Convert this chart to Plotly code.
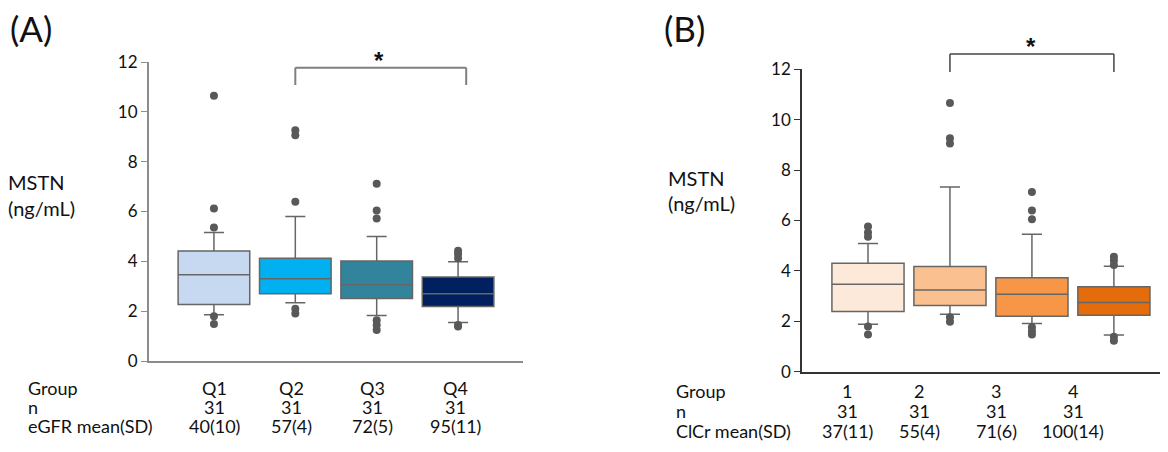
import plotly.graph_objects as go

# page has an 8px body margin: figure is sized so it fills the 1168x452 window
OFF = 8
W, H = 1168 - OFF, 452 - OFF

# ---------------- data ----------------
groups_a = ["Q1", "Q2", "Q3", "Q4"]
a_q1 = [2.27, 2.70, 2.51, 2.19]
a_med = [3.46, 3.30, 3.06, 2.70]
a_q3 = [4.41, 4.12, 4.01, 3.37]
a_lo = [1.86, 2.34, 1.83, 1.55]
a_hi = [5.16, 5.80, 5.00, 3.98]
a_out = [[10.65, 6.12, 5.36, 1.80, 1.48],
         [9.26, 9.06, 6.39, 2.10, 1.91],
         [7.11, 6.04, 5.72, 1.64, 1.44, 1.24],
         [4.42, 4.29, 4.12, 1.44, 1.38]]
a_n = ["31", "31", "31", "31"]
a_egfr = ["40(10)", "57(4)", "72(5)", "95(11)"]

groups_b = ["1", "2", "3", "4"]
b_q1 = [2.39, 2.63, 2.20, 2.24]
b_med = [3.47, 3.24, 3.07, 2.75]
b_q3 = [4.30, 4.17, 3.73, 3.37]
b_lo = [1.88, 2.28, 1.91, 1.46]
b_hi = [5.09, 7.33, 5.45, 4.18]
b_out = [[5.76, 5.52, 5.36, 1.79, 1.48],
         [10.66, 9.26, 9.06, 2.16, 1.98],
         [7.13, 6.40, 6.05, 1.76, 1.61, 1.48],
         [4.56, 4.41, 4.23, 1.39, 1.23]]
b_n = ["31", "31", "31", "31"]
b_clcr = ["37(11)", "55(4)", "71(6)", "100(14)"]

y_ticks = [0, 2, 4, 6, 8, 10, 12]

# ---------------- styles ----------------
colors_a = ["#C6D9F1", "#00B0F0", "#31849B", "#002060"]
colors_b = ["#FDE9D9", "#FAC090", "#F79646", "#E46C0A"]
LINE = "#666666"
DOT = "#595959"
FONT = "Lato, 'Open Sans', sans-serif"
FS = 18

fig = go.Figure()

def add_panel(xa, ya, q1, med, q3, lo, hi, outs, colors):
    for i in range(4):
        xpos = i + 1
        fig.add_trace(go.Box(
            x=[xpos], q1=[q1[i]], median=[med[i]], q3=[q3[i]],
            lowerfence=[lo[i]], upperfence=[hi[i]],
            width=0.88, whiskerwidth=0.28,
            fillcolor=colors[i], line=dict(color=LINE, width=1.5),
            xaxis=xa, yaxis=ya, showlegend=False, hoverinfo="skip",
        ))
        fig.add_trace(go.Scatter(
            x=[xpos] * len(outs[i]), y=outs[i], mode="markers",
            marker=dict(color=DOT, size=8),
            xaxis=xa, yaxis=ya, showlegend=False, hoverinfo="skip",
        ))

add_panel("x", "y", a_q1, a_med, a_q3, a_lo, a_hi, a_out, colors_a)
add_panel("x2", "y2", b_q1, b_med, b_q3, b_lo, b_hi, b_out, colors_b)

def px_x(p):
    return (p - OFF) / W

def px_y(p):
    return 1 - (p - OFF) / H

axis_common = dict(showgrid=False, zeroline=False, showticklabels=False,
                   ticks="", fixedrange=True, automargin=False)
yaxis_common = dict(showgrid=False, zeroline=False, range=[0, 12],
                    tickvals=y_ticks, ticks="outside", ticklen=6,
                    automargin=False,
                    tickfont=dict(family=FONT, size=17, color="#111111"))

fig.update_layout(
    width=W, height=H,
    margin=dict(l=0, r=0, t=0, b=0, autoexpand=False),
    paper_bgcolor="white", plot_bgcolor="white",
    boxmode="overlay",
    xaxis=dict(domain=[px_x(149), px_x(523)], range=[0.202, 4.798],
               showline=True, linecolor="#8c8c8c", linewidth=2, **axis_common),
    yaxis=dict(domain=[px_y(361), px_y(62)], showline=True,
               linecolor="#8c8c8c", linewidth=2, tickcolor="#8c8c8c",
               anchor="x", **yaxis_common),
    xaxis2=dict(domain=[px_x(802), 1.0], range=[0.195, 4.66],
                showline=True, linecolor="#333333", linewidth=1.5,
                anchor="y2", **axis_common),
    yaxis2=dict(domain=[px_y(371.7), px_y(69.3)], showline=True,
                linecolor="#333333", linewidth=1.5, tickcolor="#333333",
                anchor="x2", **yaxis_common),
)

ann = []
def text(x, y, s, size=FS, anchor="center", family=FONT):
    ann.append(dict(x=px_x(x), y=px_y(y), xref="paper", yref="paper",
                    text=s, showarrow=False, xanchor=anchor, yanchor="middle",
                    borderpad=0,
                    font=dict(family=family, size=size, color="#111111")))

# panel labels
text(9, 28, "(A)", size=35, anchor="left")
text(663, 28, "(B)", size=35, anchor="left")

# y titles
text(7, 182, "MSTN", size=20, anchor="left")
text(7, 208, "(ng/mL)", size=20, anchor="left")
text(667, 178, "MSTN", size=20, anchor="left")
text(667, 203, "(ng/mL)", size=20, anchor="left")

# tables
cols_a = [214, 291, 372, 455]
rows_a = [388, 407, 426]
text(27, rows_a[0], "Group", anchor="left")
text(27, rows_a[1], "n", anchor="left")
text(27, rows_a[2], "eGFR mean(SD)", anchor="left")
for i in range(4):
    text(cols_a[i], rows_a[0], groups_a[i])
    text(cols_a[i], rows_a[1], a_n[i])
    text(cols_a[i], rows_a[2], a_egfr[i])

cols_b = [847, 919, 996, 1073]
rows_b = [391, 411, 431]
text(675, rows_b[0], "Group", anchor="left")
text(675, rows_b[1], "n", anchor="left")
text(675, rows_b[2], "ClCr mean(SD)", anchor="left")
for i in range(4):
    text(cols_b[i], rows_b[0], groups_b[i])
    text(cols_b[i], rows_b[1], b_n[i])
    text(cols_b[i], rows_b[2], b_clcr[i])

# significance brackets
shapes = []
def bracket(xref, x0, x1, ytop, ybot, color, width):
    pts = [(x0, ybot, x0, ytop), (x0, ytop, x1, ytop), (x1, ytop, x1, ybot)]
    for (a, b, c, d) in pts:
        shapes.append(dict(type="line", xref=xref, yref="paper",
                           x0=a, x1=c, y0=px_y(b), y1=px_y(d),
                           line=dict(color=color, width=width)))

bracket("x", 2, 4.1, 67.7, 85, "#7f7f7f", 2)
bracket("x2", 2, 4.0, 54, 72, "#444444", 1.5)
STAR_FONT = "'Liberation Sans', Arial, sans-serif"
ann.append(dict(x=3.03, y=px_y(60), xref="x", yref="paper", text="<b>*</b>",
                showarrow=False, xanchor="center", yanchor="middle",
                font=dict(family=STAR_FONT, size=24, color="#111111")))
ann.append(dict(x=2.99, y=px_y(47), xref="x2", yref="paper", text="<b>*</b>",
                showarrow=False, xanchor="center", yanchor="middle",
                font=dict(family=STAR_FONT, size=24, color="#111111")))

fig.update_layout(annotations=ann, shapes=shapes)

fig.write_html("out.html")
